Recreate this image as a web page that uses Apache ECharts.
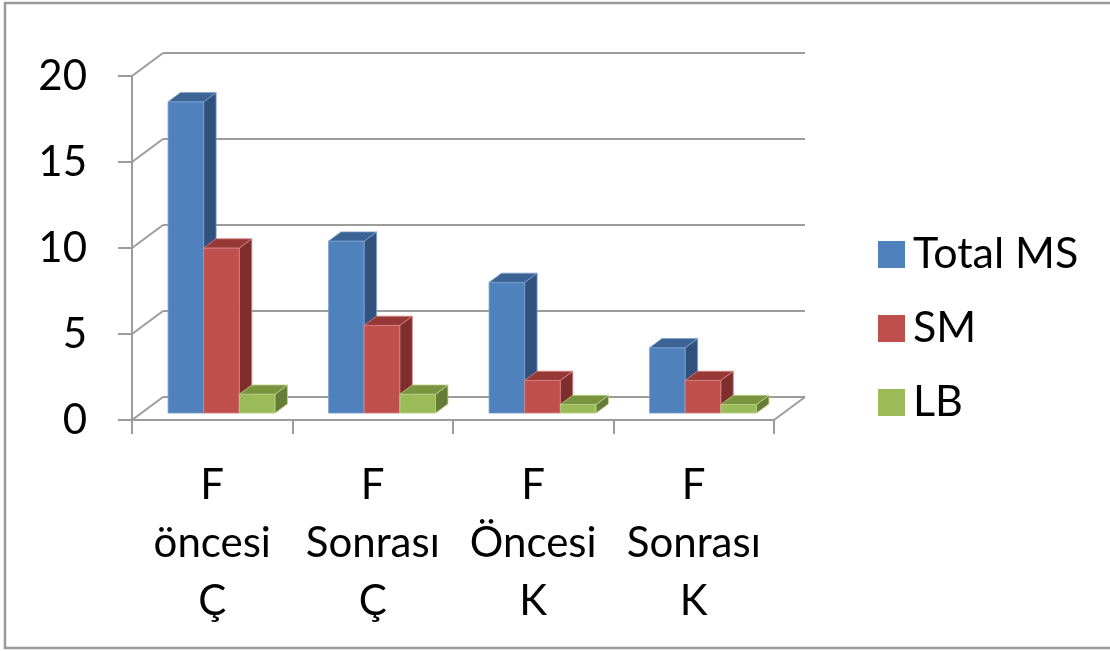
<!DOCTYPE html>
<html>
<head>
<meta charset="utf-8">
<script src="https://cdn.jsdelivr.net/npm/echarts@6/dist/echarts.min.js"></script>
<style>
  html, body { margin: 0; padding: 0; background: #ffffff; }
  #chart { width: 1110px; height: 651px; }
</style>
</head>
<body>
<div id="chart"></div>
<script>
// Categories and values
const categories = ['F\nöncesi\nÇ', 'F\nSonrası\nÇ', 'F\nÖncesi\nK', 'F\nSonrası\nK'];
const totalMS = [18.1, 10.0, 7.6, 3.8];
const sm = [9.6, 5.1, 1.9, 1.9];
const lb = [1.1, 1.1, 0.5, 0.5];
const yTicks = [0, 5, 10, 15, 20];
const seriesNames = ['Total MS', 'SM', 'LB'];

// Depth projection of the 3D box (pixels)
const DX = 31, DY = -23;
const FRONT = 0.3, BACK = 0.7;   // bar slab inside the depth
const GAP = 1.5;                 // gap between groups, in bar widths
const GRID_COLOR = '#9c9c9c';
const FONT = 'Lato';

const palettes = [
  { front: '#4F81BD', side: '#31527C', top: '#3B6494', edge: '#7FA3D0' },
  { front: '#C0504D', side: '#7E2F2D', top: '#963937', edge: '#D98885' },
  { front: '#9BBB59', side: '#667D37', top: '#79933F', edge: '#BCD38D' }
];

function barRenderer(idx) {
  const pal = palettes[idx];
  return function (params, api) {
    const cat = api.value(0);
    const val = api.value(1);
    const base = api.coord([cat, 0]);
    const topP = api.coord([cat, val]);
    const band = api.size([1, 0])[0];
    const bw = band / (3 + GAP);
    const x0 = base[0] - band / 2 + (GAP / 2) * bw + idx * bw + FRONT * DX;
    const yb = base[1] + FRONT * DY;
    const yt = topP[1] + FRONT * DY;
    const ddx = (BACK - FRONT) * DX, ddy = (BACK - FRONT) * DY;
    const edge = { stroke: pal.edge, lineWidth: 0.8, opacity: 1 };
    return {
      type: 'group',
      children: [
        {
          type: 'rect',
          shape: { x: x0, y: yt, width: bw, height: yb - yt },
          style: Object.assign({ fill: pal.front }, edge)
        },
        {
          type: 'polygon',
          shape: { points: [[x0 + bw, yt], [x0 + bw + ddx, yt + ddy], [x0 + bw + ddx, yb + ddy], [x0 + bw, yb]] },
          style: Object.assign({ fill: pal.side }, edge)
        },
        {
          type: 'polygon',
          shape: { points: [[x0, yt], [x0 + ddx, yt + ddy], [x0 + bw + ddx, yt + ddy], [x0 + bw, yt]] },
          style: Object.assign({ fill: pal.top }, edge)
        }
      ]
    };
  };
}

// Back wall, side wall and floor lines at each y tick
function wallRenderer(params, api) {
  const v = api.value(0);
  const cs = params.coordSys;
  const left = cs.x, right = cs.x + cs.width;
  const y = api.coord([0, v])[1];
  const style = { stroke: GRID_COLOR, lineWidth: 2, fill: null };
  const children = [
    { type: 'line', shape: { x1: left, y1: y, x2: left + DX, y2: y + DY }, style: style },
    { type: 'line', shape: { x1: left + DX, y1: y + DY, x2: right + DX, y2: y + DY }, style: style }
  ];
  if (v === 0) {
    children.push({ type: 'line', shape: { x1: right, y1: y, x2: right + DX, y2: y + DY }, style: style });
  }
  return { type: 'group', children: children };
}

const seriesData = [totalMS, sm, lb];

const chart = echarts.init(document.getElementById('chart'), null, { renderer: 'canvas' });
chart.setOption({
  backgroundColor: '#ffffff',
  animation: false,
  graphic: [{
    type: 'rect',
    shape: { x: 5, y: 3, width: 1110, height: 645 },
    style: { fill: null, stroke: '#9a9a9a', lineWidth: 2.5 },
    z: 0
  }],
  grid: { left: 132, right: 336, top: 76, bottom: 231, containLabel: false },
  legend: {
    orient: 'vertical',
    left: 873,
    top: 228,
    itemWidth: 27,
    itemHeight: 27,
    itemGap: 31,
    icon: 'rect',
    data: seriesNames,
    textStyle: {
      fontFamily: FONT, fontSize: 43, color: '#000000',
      lineHeight: 27, padding: [0, 0, 0, 3]
    }
  },
  xAxis: {
    type: 'category',
    data: categories,
    boundaryGap: true,
    axisLine: { show: true, lineStyle: { color: GRID_COLOR, width: 2 } },
    axisTick: { show: true, length: 14, lineStyle: { color: GRID_COLOR, width: 2 } },
    axisLabel: {
      fontFamily: FONT, fontSize: 42, color: '#000000',
      lineHeight: 58, margin: 36, interval: 0
    },
    splitLine: { show: false }
  },
  yAxis: {
    type: 'value',
    min: 0, max: 20, interval: 5,
    axisLine: { show: true, lineStyle: { color: GRID_COLOR, width: 2 } },
    axisTick: { show: true, length: 14, lineStyle: { color: GRID_COLOR, width: 2 } },
    axisLabel: { fontFamily: FONT, fontSize: 42, color: '#000000', margin: 45 },
    splitLine: { show: false }
  },
  series: [
    {
      type: 'custom',
      name: 'walls',
      silent: true,
      z: 1,
      clip: false,
      renderItem: wallRenderer,
      data: yTicks.map(v => [v])
    }
  ].concat(seriesNames.map((name, i) => ({
    type: 'custom',
    name: name,
    z: 2 + i,
    clip: false,
    itemStyle: { color: palettes[i].front },
    renderItem: barRenderer(i),
    encode: { x: 0, y: 1 },
    data: seriesData[i].map((v, c) => [c, v])
  })))
});
</script>
</body>
</html>
